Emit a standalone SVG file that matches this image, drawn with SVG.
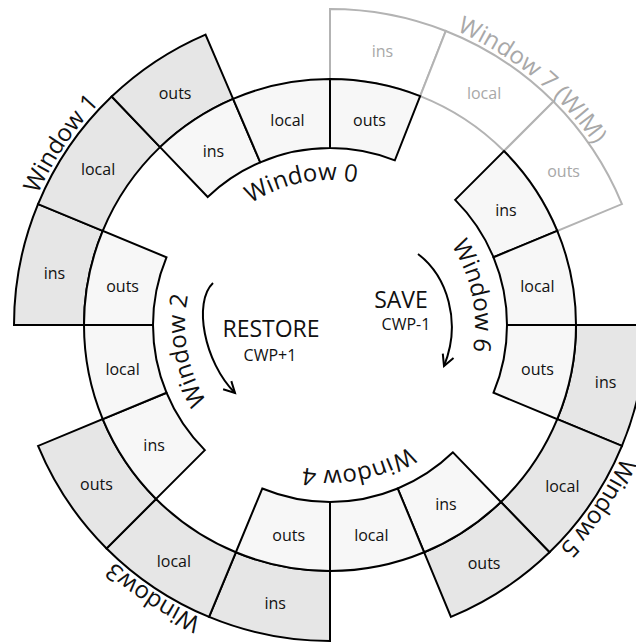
<svg xmlns="http://www.w3.org/2000/svg" width="636" height="644" viewBox="0 0 636 644">
  <defs>
    <style>
      .in{fill:#f7f7f7;stroke:#000;stroke-width:2}
      .out{fill:#e6e6e6;stroke:#000;stroke-width:2}
      .wim{fill:#fff;stroke:#b3b3b3;stroke-width:2}
      text{font-family:"Open Sans","Noto Sans","DejaVu Sans",sans-serif;fill:#111}
      .reg{font-size:16px;text-anchor:middle}
      .title{font-size:24px}
      .op{font-size:23px;text-anchor:middle}
      .cwp{font-size:16px;text-anchor:middle}
      .grey{fill:#a8a8a8}
      .arc{fill:none;stroke:#000;stroke-width:2}
    </style>
    <!-- clockwise baseline circles, both starting at the bottom so 50% is the top -->
    <path id="ringIn" d="M330,470 A145,145 0 0 1 330,180 A145,145 0 0 1 330,470"/>
    <path id="ringOut" d="M330,645 A320,320 0 0 1 330,5 A320,320 0 0 1 330,645"/>
    <marker id="head" markerUnits="userSpaceOnUse" markerWidth="24" markerHeight="24" refX="0" refY="0" orient="auto" overflow="visible">
      <path d="M-11,-5.8 L0,0 L-11,5.8" fill="none" stroke="#000" stroke-width="2"/>
    </marker>
  </defs>

  <!-- Window 7 (WIM), outer ring, greyed out -->
  <g id="window7">
    <path class="wim" d="M330,79 L330,9 A316,316 0 0 1 445.81,30.99 L420.16,96.12 A246,246 0 0 0 330,79 Z"/>
    <path class="wim" d="M420.16,96.12 L445.81,30.99 A316,316 0 0 1 553.45,101.55 L503.95,151.05 A246,246 0 0 0 420.16,96.12 Z"/>
    <path class="wim" d="M503.95,151.05 L553.45,101.55 A316,316 0 0 1 621.95,204.07 L557.27,230.86 A246,246 0 0 0 503.95,151.05 Z"/>
    <text class="reg grey" x="382.4" y="57.4">ins</text>
    <text class="reg grey" x="484.1" y="98.5">local</text>
    <text class="reg grey" x="563.6" y="177.4">outs</text>
    <text class="title grey" transform="rotate(39.5 330 325)"><textPath href="#ringOut" startOffset="50%" text-anchor="middle">Window 7 (WIM)</textPath></text>
  </g>

  <!-- Window 1, outer ring -->
  <g id="window1">
    <path class="out" d="M84,325 L14,325 A316,316 0 0 1 38.05,204.07 L102.73,230.86 A246,246 0 0 0 84,325 Z"/>
    <path class="out" d="M102.73,230.86 L38.05,204.07 A316,316 0 0 1 111.68,96.54 L160.04,147.15 A246,246 0 0 0 102.73,230.86 Z"/>
    <path class="out" d="M160.04,147.15 L111.68,96.54 A316,316 0 0 1 205.51,34.55 L233.09,98.89 A246,246 0 0 0 160.04,147.15 Z"/>
    <text class="reg" x="54.4" y="278.7">ins</text>
    <text class="reg" x="98.1" y="174.7">local</text>
    <text class="reg" x="175.1" y="99">outs</text>
    <text class="title" transform="rotate(-56 330 325)"><textPath href="#ringOut" startOffset="50%" text-anchor="middle">Window 1</textPath></text>
  </g>

  <!-- Window 3, outer ring -->
  <g id="window3">
    <path class="out" d="M330,571 L330,641 A316,316 0 0 1 209.07,616.95 L235.86,552.27 A246,246 0 0 0 330,571 Z"/>
    <path class="out" d="M235.86,552.27 L209.07,616.95 A316,316 0 0 1 106.55,548.45 L156.05,498.95 A246,246 0 0 0 235.86,552.27 Z"/>
    <path class="out" d="M156.05,498.95 L106.55,548.45 A316,316 0 0 1 38.05,445.93 L102.73,419.14 A246,246 0 0 0 156.05,498.95 Z"/>
    <text class="reg" x="275.2" y="609.1">ins</text>
    <text class="reg" x="173.9" y="567.1">local</text>
    <text class="reg" x="96.4" y="489.6">outs</text>
    <text class="title" transform="rotate(-147 330 325)"><textPath href="#ringOut" startOffset="50%" text-anchor="middle">Window3</textPath></text>
  </g>

  <!-- Window 5, outer ring -->
  <g id="window5">
    <path class="out" d="M576,325 L646,325 A316,316 0 0 1 621.95,445.93 L557.27,419.14 A246,246 0 0 0 576,325 Z"/>
    <path class="out" d="M557.27,419.14 L621.95,445.93 A316,316 0 0 1 549.51,552.31 L500.89,501.96 A246,246 0 0 0 557.27,419.14 Z"/>
    <path class="out" d="M500.89,501.96 L549.51,552.31 A316,316 0 0 1 450.93,616.95 L424.14,552.27 A246,246 0 0 0 500.89,501.96 Z"/>
    <text class="reg" x="605.6" y="388.3">ins</text>
    <text class="reg" x="562.3" y="491.6">local</text>
    <text class="reg" x="484.1" y="568.5">outs</text>
    <text class="title" transform="rotate(124.3 330 325)"><textPath href="#ringOut" startOffset="50%" text-anchor="middle">Window 5</textPath></text>
  </g>

  <!-- Window 0, inner ring -->
  <g id="window0">
    <path class="in" d="M207.71,197.03 L160.04,147.15 A246,246 0 0 1 233.09,98.89 L260.27,162.31 A177,177 0 0 0 207.71,197.03 Z"/>
    <path class="in" d="M260.27,162.31 L233.09,98.89 A246,246 0 0 1 330,79 L330,148 A177,177 0 0 0 260.27,162.31 Z"/>
    <path class="in" d="M330,148 L330,79 A246,246 0 0 1 420.16,96.12 L394.87,160.32 A177,177 0 0 0 330,148 Z"/>
    <text class="reg" x="213.4" y="157">ins</text>
    <text class="reg" x="287.5" y="126.3">local</text>
    <text class="reg" x="369.4" y="125.7">outs</text>
    <text class="title" transform="rotate(-11.3 330 325)"><textPath href="#ringIn" startOffset="50%" text-anchor="middle">Window 0</textPath></text>
  </g>

  <!-- Window 6, inner ring -->
  <g id="window6">
    <path class="in" d="M455.16,199.84 L503.95,151.05 A246,246 0 0 1 557.27,230.86 L493.53,257.27 A177,177 0 0 0 455.16,199.84 Z"/>
    <path class="in" d="M493.53,257.27 L557.27,230.86 A246,246 0 0 1 576,325 L507,325 A177,177 0 0 0 493.53,257.27 Z"/>
    <path class="in" d="M507,325 L576,325 A246,246 0 0 1 557.27,419.14 L493.53,392.73 A177,177 0 0 0 507,325 Z"/>
    <text class="reg" x="505.9" y="216">ins</text>
    <text class="reg" x="537.4" y="292.2">local</text>
    <text class="reg" x="537.4" y="374.8">outs</text>
    <text class="title" transform="rotate(78.5 330 325)"><textPath href="#ringIn" startOffset="50%" text-anchor="middle">Window 6</textPath></text>
  </g>

  <!-- Window 4, inner ring -->
  <g id="window4">
    <path class="in" d="M452.95,452.32 L500.89,501.96 A246,246 0 0 1 424.14,552.27 L397.73,488.53 A177,177 0 0 0 452.95,452.32 Z"/>
    <path class="in" d="M397.73,488.53 L424.14,552.27 A246,246 0 0 1 330,571 L330,502 A177,177 0 0 0 397.73,488.53 Z"/>
    <path class="in" d="M330,502 L330,571 A246,246 0 0 1 235.86,552.27 L262.27,488.53 A177,177 0 0 0 330,502 Z"/>
    <text class="reg" x="446" y="510.4">ins</text>
    <text class="reg" x="371.3" y="540.9">local</text>
    <text class="reg" x="288.7" y="540.9">outs</text>
    <text class="title" transform="rotate(168.75 330 325)"><textPath href="#ringIn" startOffset="50%" text-anchor="middle">Window 4</textPath></text>
  </g>

  <!-- Window 2, inner ring -->
  <g id="window2">
    <path class="in" d="M204.84,450.16 L156.05,498.95 A246,246 0 0 1 102.73,419.14 L166.47,392.73 A177,177 0 0 0 204.84,450.16 Z"/>
    <path class="in" d="M166.47,392.73 L102.73,419.14 A246,246 0 0 1 84,325 L153,325 A177,177 0 0 0 166.47,392.73 Z"/>
    <path class="in" d="M153,325 L84,325 A246,246 0 0 1 102.73,230.86 L166.47,257.27 A177,177 0 0 0 153,325 Z"/>
    <text class="reg" x="154.1" y="451">ins</text>
    <text class="reg" x="122.6" y="374.8">local</text>
    <text class="reg" x="122.6" y="292.2">outs</text>
    <text class="title" transform="rotate(-100 330 325)"><textPath href="#ringIn" startOffset="50%" text-anchor="middle">Window 2</textPath></text>
  </g>

  <!-- operations in the middle -->
  <g id="save">
    <text class="op" x="401" y="308">SAVE</text>
    <text class="cwp" x="406" y="330">CWP-1</text>
  </g>
  <g id="restore">
    <text class="op" x="271" y="337">RESTORE</text>
    <text class="cwp" x="270" y="361">CWP+1</text>
  </g>

  <!-- rotation arrows -->
  <g id="connectors">
    <path class="arc" d="M418,254 C447,276 462,322 444,366" marker-end="url(#head)"/>
    <path class="arc" d="M213,283 C193,302 204,362 235,393" marker-end="url(#head)"/>
  </g>
</svg>
